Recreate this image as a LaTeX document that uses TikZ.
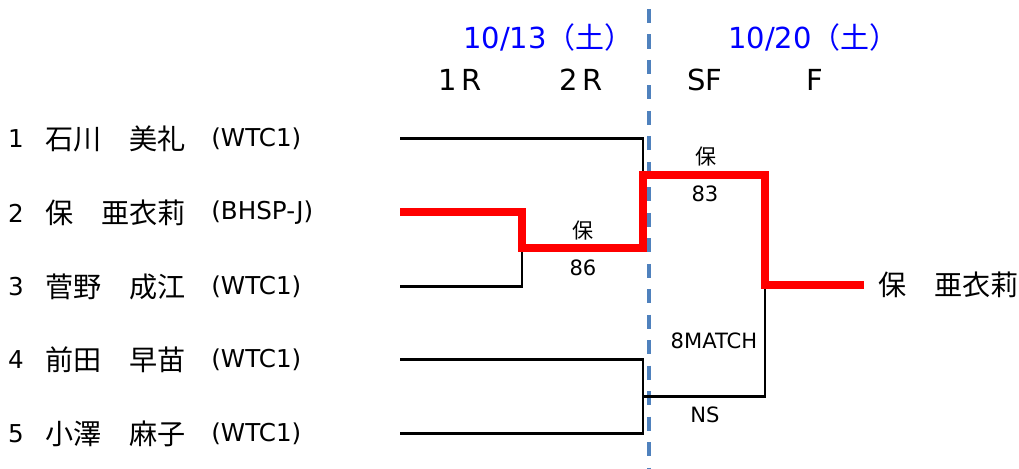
\documentclass[tikz,border=0pt]{standalone}
\usepackage{fontspec}
\setmainfont{DejaVu Sans}
\newfontfamily\cjk{Noto Sans CJK JP}
\usepackage{xcolor}
\definecolor{winred}{HTML}{FF0000}
\definecolor{divblue}{HTML}{4F81BD}
\definecolor{dateblue}{HTML}{0000FF}
\usepackage{tikz}
\usetikzlibrary{positioning,calc}
\tikzset{
    seed/.style={font=\fontsize{14}{16}\selectfont, inner sep=0pt},
    player/.style={font=\cjk\fontsize{16}{18}\selectfont, anchor=west, inner sep=0pt},
    club/.style={font=\fontsize{14}{16}\selectfont, anchor=west, inner sep=0pt},
    round_lbl/.style={font=\fontsize{16.5}{20}\selectfont, inner sep=0pt},
    date_lbl/.style={font=\fontsize{16.5}{20}\selectfont, text=dateblue, anchor=base west, inner sep=0pt},
    score/.style={font=\fontsize{12}{14}\selectfont, inner sep=0pt},
    score_jp/.style={font=\cjk\fontsize{12}{14}\selectfont, inner sep=0pt}
}

\begin{document}
\begin{tikzpicture}[
    x=0.02cm, y=-0.02cm,
    loser/.style={draw=black, line width=1.7pt},
    winner/.style={draw=winred, line width=4pt},
    day_split/.style={draw=divblue, line width=2pt, dash pattern=on 8pt off 6.5pt}
]
  \useasboundingbox (0,0) rectangle (1019,468);

  % Dates and rounds
  \node[date_lbl] (day1) at (463,48) {10/13{\cjk （土）}};
  \node[date_lbl] (day2) at (728,48) {10/20{\cjk （土）}};
  \node[round_lbl] (rnd1) at (460,80) {1\,R};
  \node[round_lbl] (rnd2) at (581,80) {2\,R};
  \node[round_lbl] (rnd_sf) at (705,80) {SF};
  \node[round_lbl] (rnd_f) at (815,80) {F};

  % Day split
  \coordinate (split_top) at (649,9);
  \coordinate (split_bot) at (649,468);
  \draw[day_split] (split_top) -- (split_bot);

  % Entrants
  \node[seed] (seed1) at (16,139) {1};
  \node[player] (ply1) at (45,139) {石川　美礼};
  \node[club] (club1) at (211,139) {(WTC1)};
  \node[seed] (seed2) at (16,213) {2};
  \node[player] (ply2) at (45,213) {保　亜衣莉};
  \node[club] (club2) at (211,213) {(BHSP-J)};
  \node[seed] (seed3) at (16,287) {3};
  \node[player] (ply3) at (45,287) {菅野　成江};
  \node[club] (club3) at (211,287) {(WTC1)};
  \node[seed] (seed4) at (16,360) {4};
  \node[player] (ply4) at (45,360) {前田　早苗};
  \node[club] (club4) at (211,360) {(WTC1)};
  \node[seed] (seed5) at (16,434) {5};
  \node[player] (ply5) at (45,434) {小澤　麻子};
  \node[club] (club5) at (211,434) {(WTC1)};

  % Bracket points
  \coordinate (line1) at (400,138);
  \coordinate (line2) at (400,212);
  \coordinate (line3) at (400,286);
  \coordinate (line4) at (400,359);
  \coordinate (line5) at (400,433);
  \coordinate (m23) at (522,248);
  \coordinate (sf1) at (643,175);
  \coordinate (sf2) at (643,396);
  \coordinate (fin) at (765,285);

  % Champion
  \node[player, inner xsep=8pt] (champ) at (864,285) {保　亜衣莉};

  % Results
  \node[score_jp] (win_2r) at (583,231) {保};
  \node[score] (sc_2r) at (583,268) {86};
  \node[score_jp] (win_sf) at (706,157) {保};
  \node[score] (sc_sf) at (705,194) {83};
  \node[score] (sc_sf2) at (714,341) {8MATCH};
  \node[score] (ns_sf2) at (705,415) {NS};

  % Bracket lines
  \draw[loser] (line1) -| (sf1);
  \draw[loser] (line3) -| (m23);
  \draw[loser] (line4) -| (sf2);
  \draw[loser] (line5) -| (sf2);
  \draw[loser] (sf2) -| (fin);
  \draw[winner] (line2) -| (m23) -| (sf1) -| (fin) -- (champ.west);

\end{tikzpicture}
\end{document}
